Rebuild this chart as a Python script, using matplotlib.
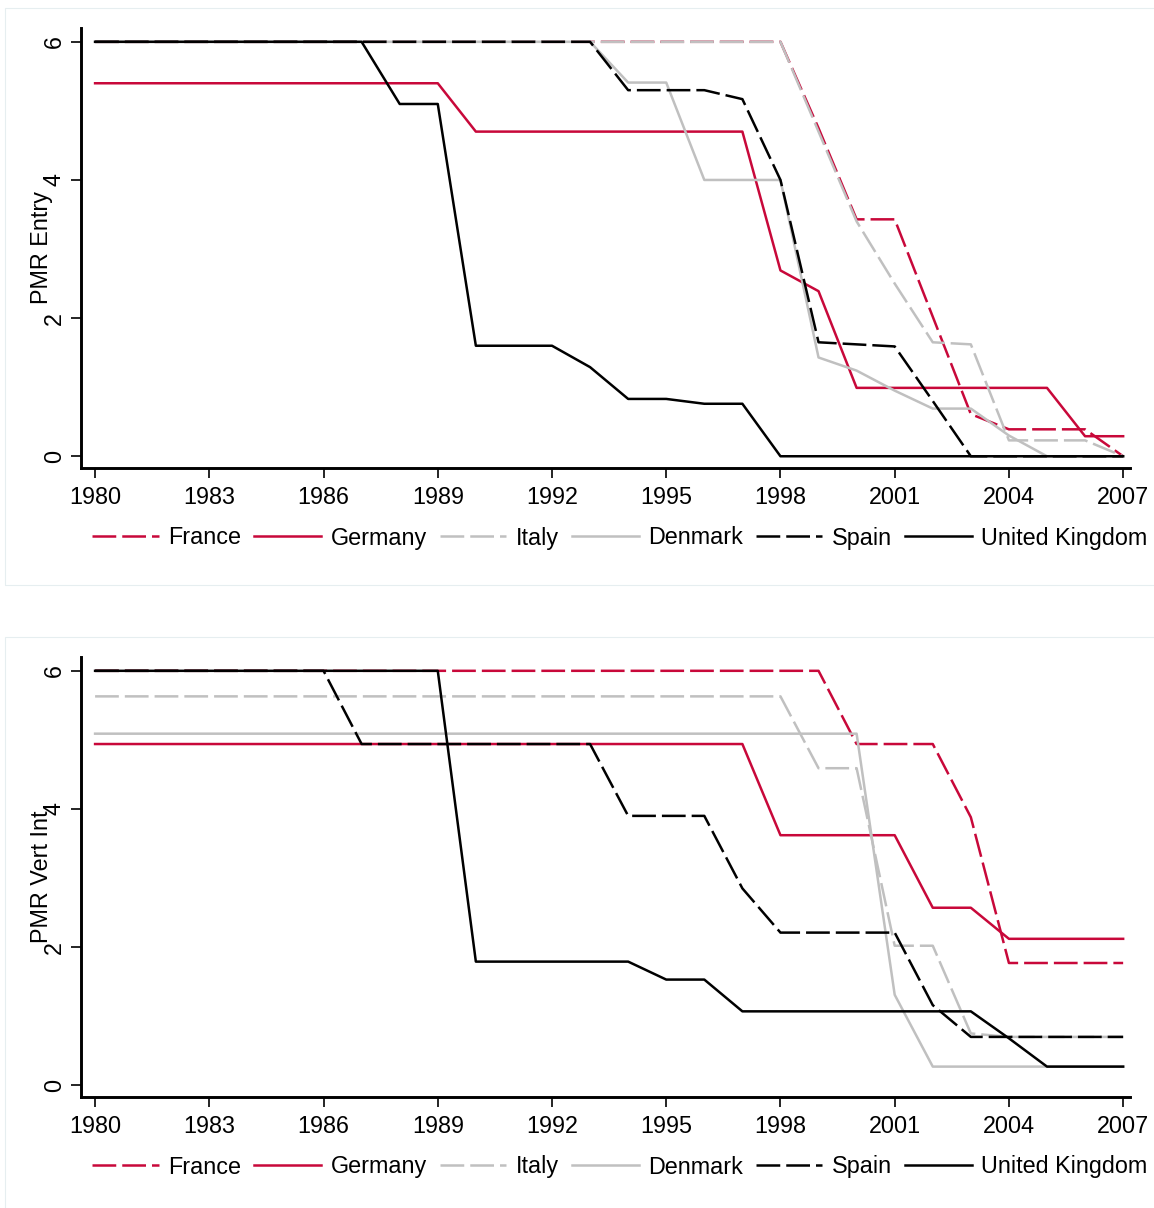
import numpy as np
import matplotlib
matplotlib.use("Agg")
import matplotlib.pyplot as plt
from matplotlib.patches import Rectangle
from matplotlib.lines import Line2D

plt.rcParams['font.family'] = ['Liberation Sans', 'DejaVu Sans']

years = list(range(1980, 2008))
countries = ["France", "Germany", "Italy", "Denmark", "Spain", "United Kingdom"]

# PMR Entry (top panel), one value per year 1980..2007
entry_france = [6]*19 + [4.75, 3.43, 3.43, 2.02, 0.61, 0.39, 0.39, 0.39, 0]
entry_germany = [5.4]*10 + [4.7]*8 + [2.69, 2.39, 0.99, 0.99, 0.99, 0.99, 0.99, 0.99, 0.29, 0.29]
entry_italy = [6]*19 + [4.7, 3.4, 2.5, 1.65, 1.62, 0.23, 0.23, 0.23, 0]
entry_denmark = [6]*14 + [5.41, 5.41, 4.0, 4.0, 4.0, 1.43, 1.24, 0.95, 0.69, 0.69, 0.30, 0, 0, 0]
entry_spain = [6]*14 + [5.30, 5.30, 5.30, 5.17, 4.0, 1.65, 1.62, 1.59, 0.8, 0, 0, 0, 0, 0]
entry_uk = [6]*8 + [5.1, 5.1, 1.6, 1.6, 1.6, 1.29, 0.83, 0.83, 0.76, 0.76] + [0]*10

# PMR Vertical integration (bottom panel)
vert_france = [6]*20 + [4.94, 4.94, 4.94, 3.88, 1.77, 1.77, 1.77, 1.77]
vert_germany = [4.94]*18 + [3.62, 3.62, 3.62, 3.62, 2.57, 2.57, 2.12, 2.12, 2.12, 2.12]
vert_italy = [5.63]*19 + [4.59, 4.59, 2.02, 2.02, 0.75, 0.70, 0.70, 0.70, 0.70]
vert_denmark = [5.09]*21 + [1.31, 0.27, 0.27, 0.27, 0.27, 0.27, 0.27]
vert_spain = [6]*7 + [4.94]*7 + [3.90, 3.90, 3.90, 2.85, 2.21, 2.21, 2.21, 2.21, 1.16, 0.70, 0.70, 0.70, 0.70, 0.70]
vert_uk = [6]*10 + [1.79]*5 + [1.53, 1.53] + [1.07]*7 + [0.68, 0.27, 0.27, 0.27]

red = "#c8083a"
gray = "#c0c0c0"
styles = [(red, True), (red, False), (gray, True), (gray, False), ("black", True), ("black", False)]
dash = (0, (9.5, 2.4))
lw = 1.8

fig = plt.figure(figsize=(11.54, 12.08), dpi=100)
W, H = 1154, 1208

# faint outlines of the two sub-graphs
for top_px in (8, 637):
    fig.patches.append(Rectangle((5 / W, 1 - (top_px + 577) / H), 1.0, 577 / H,
                                 transform=fig.transFigure, fill=False,
                                 edgecolor="#e6eef0", linewidth=0.8))


def panel(top_px, series, ylabel):
    ax = fig.add_axes([81 / W, 1 - (top_px + 460) / H, 1049 / W, 440 / H])
    for vals, (col, dashed) in zip(series, styles):
        if dashed:
            ax.plot(years, vals, color=col, lw=lw, linestyle=dash)
        else:
            ax.plot(years, vals, color=col, lw=lw)
    ax.set_xlim(1979.63, 2007.18)
    ax.set_ylim(-0.17, 6.2)
    ax.set_xticks(range(1980, 2008, 3))
    ax.set_yticks([0, 2, 4, 6])
    ax.spines['top'].set_visible(False)
    ax.spines['right'].set_visible(False)
    for s in ('left', 'bottom'):
        ax.spines[s].set_linewidth(2.1)
    ax.tick_params(axis='both', length=7, width=1.2, labelsize=16.8, pad=6)
    ax.tick_params(axis='y', labelrotation=90, pad=4)
    for lab in ax.get_yticklabels():
        lab.set_va('center')
    ax.set_ylabel(ylabel, fontsize=16.8)
    ax.yaxis.set_label_coords(-0.027, 0.5)

    handles = []
    for col, dashed in styles:
        handles.append(Line2D([], [], color=col, lw=lw, linestyle=dash if dashed else '-'))
    fig.legend(handles, countries, loc='center', ncol=6, frameon=False,
               bbox_to_anchor=(620 / W, 1 - (top_px + 530) / H),
               fontsize=16.8, handlelength=2.85, handletextpad=0.42,
               columnspacing=0.55, borderaxespad=0)
    return ax


panel(8, [entry_france, entry_germany, entry_italy, entry_denmark, entry_spain, entry_uk], "PMR Entry")
panel(637, [vert_france, vert_germany, vert_italy, vert_denmark, vert_spain, vert_uk], "PMR Vert Int")

fig.savefig("out.png", dpi=100)
